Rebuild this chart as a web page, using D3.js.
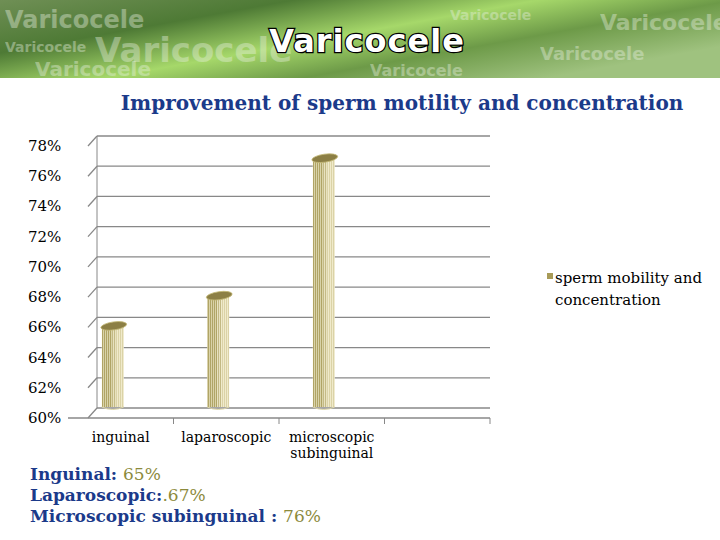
<!DOCTYPE html>
<html>
<head>
<script src="https://cdnjs.cloudflare.com/ajax/libs/d3/7.8.5/d3.min.js"></script>
<style>body{margin:0;background:#fff;}</style>
</head>
<body>
<div id="container"></div>
<script>
// Data
var categories = ["inguinal", "laparoscopic", "microscopic subinguinal", ""];
var values = [65.3, 67.3, 76.4, null];
var ticks = [60, 62, 64, 66, 68, 70, 72, 74, 76, 78];
var seriesName = "sperm mobility and concentration";
var notes = [["Inguinal:  ", "65%"], ["Laparoscopic:", ".67%"], ["Microscopic subinguinal : ", "76%"]];

var w = 720, h = 540, depth = 9;
var svg = d3.select("#container").append("svg").attr("width", w).attr("height", h);
var serif = "'DejaVu Serif', 'Liberation Serif', serif";

// Banner
var defs = svg.append("defs");
var g1 = defs.append("linearGradient").attr("id", "ban").attr("x1", 0).attr("y1", 0).attr("x2", 1).attr("y2", 0.6);
[["0", "#6f8f55"], ["0.3", "#4e7a35"], ["0.55", "#a6d86a"], ["0.75", "#6d9a48"], ["1", "#9fc27f"]]
  .forEach(function(s) { g1.append("stop").attr("offset", s[0]).attr("stop-color", s[1]); });
svg.append("rect").attr("width", w).attr("height", 78).attr("fill", "url(#ban)");
var bg = [[5, 28, 24], [450, 20, 14], [600, 30, 22], [5, 52, 14], [95, 62, 34], [540, 60, 18], [35, 76, 20], [370, 76, 16]];
bg.forEach(function(b) {
  svg.append("text").attr("x", b[0]).attr("y", b[1]).attr("font-family", "DejaVu Sans").attr("font-weight", "bold")
    .attr("font-size", b[2]).attr("fill", "#e8f0e0").attr("opacity", 0.4).text("Varicocele");
});
svg.append("text").attr("x", 367).attr("y", 52).attr("text-anchor", "middle").attr("font-family", "DejaVu Sans")
  .attr("font-weight", "bold").attr("font-size", 32).attr("fill", "#fff").attr("stroke", "#000").attr("stroke-width", 2.5)
  .attr("paint-order", "stroke").attr("letter-spacing", 1).text("Varicocele");

// Title
svg.append("text").attr("x", 402).attr("y", 110).attr("text-anchor", "middle").attr("font-family", serif)
  .attr("font-weight", "bold").attr("font-size", 20).attr("fill", "#1b3a8a")
  .text("Improvement of sperm motility and concentration");

// Scales
var y = d3.scaleLinear().domain([60, 78]).range([407, 135]);
var x = d3.scaleBand().domain(categories).range([68, 490]);

// Grid (back wall) and stubs
ticks.forEach(function(t) {
  var yy = y(t) + 10;
  svg.append("line").attr("x1", 97).attr("x2", 490).attr("y1", yy - depth).attr("y2", yy - depth)
    .attr("stroke", "#888").attr("stroke-width", 1.3);
  svg.append("line").attr("x1", 88).attr("x2", 97).attr("y1", yy + 1).attr("y2", yy - depth)
    .attr("stroke", "#888").attr("stroke-width", 1.3);
  svg.append("text").attr("x", 28).attr("y", yy + 6).attr("font-family", serif).attr("font-size", 15)
    .attr("fill", "#000").text(t + "%");
});
svg.append("line").attr("x1", 97).attr("x2", 97).attr("y1", y(78) + 1).attr("y2", y(60) + 1).attr("stroke", "#888");
// Floor line + ticks
svg.append("line").attr("x1", 68).attr("x2", 490).attr("y1", 418).attr("y2", 418).attr("stroke", "#888").attr("stroke-width", 1.3);
categories.forEach(function(c, i) {
  if (i > 0) {
    var tx = x(c);
    svg.append("line").attr("x1", tx).attr("x2", tx).attr("y1", 418).attr("y2", 424).attr("stroke", "#888");
  }
});
svg.append("line").attr("x1", 490).attr("x2", 490).attr("y1", 418).attr("y2", 424).attr("stroke", "#888");

// Category labels
categories.forEach(function(c) {
  if (!c) return;
  var cx = x(c) + x.bandwidth() / 2;
  var parts = c === "microscopic subinguinal" ? ["microscopic", "subinguinal"] : [c];
  parts.forEach(function(p, j) {
    svg.append("text").attr("x", cx).attr("y", 442 + j * 16).attr("text-anchor", "middle")
      .attr("font-family", serif).attr("font-size", 14).attr("fill", "#000").text(p);
  });
});

// Cylinders
var bw = 22;
values.forEach(function(v, i) {
  if (v == null) return;
  var cx = x(categories[i]) + x.bandwidth() / 2 - 8;
  var top = y(v), bot = y(60);
  var g = svg.append("g");
  g.append("rect").attr("x", cx - bw / 2).attr("y", top).attr("width", bw).attr("height", bot - top).attr("fill", "#fbf8df");
  d3.range(0, 11).forEach(function(k) {
    g.append("line").attr("x1", cx - bw / 2 + 1 + k * 2).attr("x2", cx - bw / 2 + 1 + k * 2)
      .attr("y1", top).attr("y2", bot).attr("stroke", k < 7 ? "#a89b58" : "#cbc08a").attr("stroke-width", k < 5 ? 1.3 : 0.9);
  });
  g.append("path").attr("d", "M" + (cx - bw / 2) + "," + bot + " Q" + cx + "," + (bot + 5) + " " + (cx + bw / 2) + "," + bot)
    .attr("fill", "none").attr("stroke", "#ddd6a8");
  g.append("ellipse").attr("cx", cx + 1).attr("cy", top - 1).attr("rx", bw / 2 + 2).attr("ry", 4)
    .attr("transform", "rotate(-8," + (cx + 1) + "," + (top - 1) + ")")
    .attr("fill", "#8c7f45").attr("stroke", "#c4b978").attr("stroke-width", 0.8);
});

// Legend
svg.append("rect").attr("x", 547).attr("y", 273).attr("width", 6).attr("height", 6).attr("fill", "#a89b58");
svg.append("text").attr("x", 555).attr("y", 283).attr("font-family", serif).attr("font-size", 15).text("sperm mobility and");
svg.append("text").attr("x", 555).attr("y", 305).attr("font-family", serif).attr("font-size", 15).text("concentration");

// Notes
notes.forEach(function(n, i) {
  var t = svg.append("text").attr("x", 30).attr("y", 480 + i * 21).attr("font-family", serif).attr("font-size", 17);
  t.append("tspan").attr("font-weight", "bold").attr("fill", "#1b3a8a").text(n[0]);
  t.append("tspan").attr("fill", "#8c8a3c").text(n[1]);
});
</script>
</body>
</html>
